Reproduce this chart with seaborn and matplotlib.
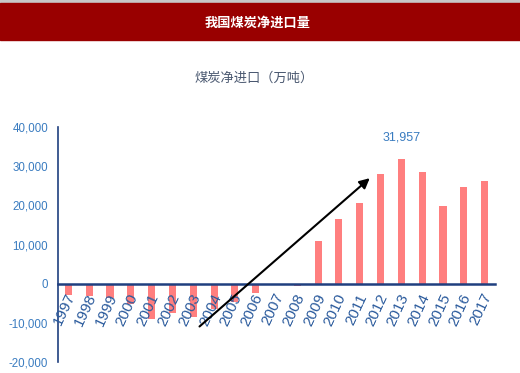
import matplotlib
matplotlib.use("Agg")
import matplotlib.pyplot as plt
import matplotlib.transforms as mtransforms
import seaborn as sns
import pandas as pd

# net coal imports, 10k tonnes
years = [str(y) for y in range(1997, 2018)]
net_imports = [-2900, -3100, -3600, -5300, -9000, -7400, -8400, -6400, -4700, -2500,
               -200, -500, 10800, 16600, 20700, 27900, 31957, 28500, 19800, 24600, 26300]
peak_label = "31,957"
y_ticks = [-20000, -10000, 0, 10000, 20000, 30000, 40000]

sns.set_theme(style="white")
plt.rcParams['font.family'] = ['Noto Sans CJK SC', 'DejaVu Sans']

BAR = '#ff7f7f'
AXIS = '#1f3f7f'
XLAB = '#2a5a9c'
YLAB = '#3a7cc0'
NUM_FONT = ['Liberation Sans', 'DejaVu Sans']

df = pd.DataFrame({'year': years, 'value': net_imports})

fig = plt.figure(figsize=(5.2, 3.73), dpi=100)
fig.patch.set_facecolor('white')

# header band
fig.patches.append(plt.Rectangle((0, 0.993), 1, 0.007, transform=fig.transFigure,
                                 color='#c8c8c8', zorder=0))
fig.patches.append(plt.Rectangle((0, 0.893), 1, 0.100, transform=fig.transFigure,
                                 color='#990000', zorder=0))
fig.text(0.495, 0.94, '我国煤炭净进口量', color='white', fontsize=9.5, fontweight='bold',
         ha='center', va='center')
fig.text(0.489, 0.791, '煤炭净进口（万吨）', color='#4a5870', fontsize=9.5,
         ha='center', va='center')

ax = fig.add_axes([0.1115, 0.0295, 0.8405, 0.63])
sns.barplot(data=df, x='year', y='value', color=BAR, saturation=1, width=0.34,
            linewidth=0, ax=ax)
ax.set_axisbelow(False)

ax.set_xlim(-0.5, len(years) - 0.5)
ax.set_ylim(-20000, 40000)
ax.set_yticks(y_ticks)
ax.set_yticklabels([f'{v:,}' for v in y_ticks], color=YLAB, fontsize=8.3, family=NUM_FONT)
ax.set_xlabel('')
ax.set_ylabel('')

for s in ['top', 'right']:
    ax.spines[s].set_visible(False)
ax.spines['bottom'].set_position(('data', 0))
ax.spines['bottom'].set_color(AXIS)
ax.spines['bottom'].set_linewidth(1.8)
ax.spines['left'].set_color(AXIS)
ax.spines['left'].set_linewidth(1.2)
ax.tick_params(axis='y', direction='in', length=3, width=1, color=AXIS, pad=7)
ax.tick_params(axis='x', length=0, pad=7.5)

shift = mtransforms.ScaledTranslation(0.035, 0.0, fig.dpi_scale_trans)
for lab in ax.get_xticklabels():
    lab.set_rotation(65)
    lab.set_ha('right')
    lab.set_va('center')
    lab.set_rotation_mode('anchor')
    lab.set_color(XLAB)
    lab.set_fontsize(11)
    lab.set_family(NUM_FONT)
    lab.set_transform(lab.get_transform() + shift)

# peak label above 2013
peak_idx = net_imports.index(max(net_imports))
ax.annotate(peak_label, xy=(peak_idx, max(net_imports)), xytext=(0, 11),
            textcoords='offset points', ha='center', va='bottom', color=YLAB,
            fontsize=9, family=NUM_FONT)

# trend arrow
ax.annotate('', xy=(14.58, 27400), xytext=(6.2, -11400),
            arrowprops=dict(arrowstyle='-|>', color='black', lw=1.5, mutation_scale=15))

fig.savefig('out.png', dpi=100, facecolor='white')
